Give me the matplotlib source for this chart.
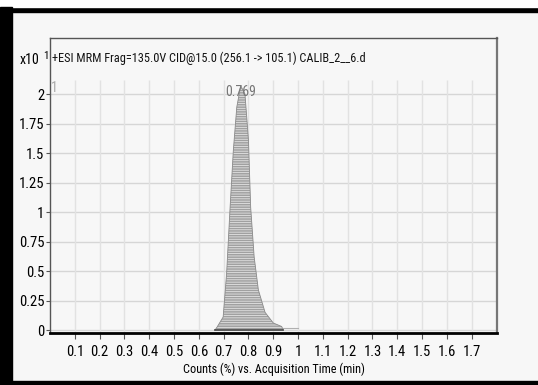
import matplotlib
matplotlib.use("Agg")
import matplotlib.pyplot as plt
from matplotlib import font_manager
from matplotlib.font_manager import FontProperties
from matplotlib.patches import Rectangle

# pick a narrow font if one is installed
narrow_path = None
prefs = ['LiberationSansNarrow-Regular', 'RobotoCondensed-Regular', 'DejaVuSansCondensed.ttf',
         'Roboto_Condensed', 'OpenSans_Condensed', 'OpenSansCondensed']
cands = [f for f in font_manager.fontManager.ttflist
         if ('condensed' in str(f.stretch).lower() or 'narrow' in f.fname.lower() or 'condensed' in f.fname.lower())
         and 'bold' not in f.fname.lower() and 'oblique' not in f.fname.lower() and 'italic' not in f.fname.lower()
         and f.weight in (400, 'normal', 'regular')]
for p in prefs:
    for f in cands:
        if p.lower() in f.fname.lower():
            narrow_path = f.fname
            break
    if narrow_path:
        break
if narrow_path is None and cands:
    narrow_path = cands[0].fname

plt.rcParams['font.family'] = ['Liberation Sans', 'DejaVu Sans']
plt.rcParams['hatch.linewidth'] = 0.6

def fp(size):
    if narrow_path:
        return FontProperties(fname=narrow_path, size=size)
    return FontProperties(family=['Liberation Sans', 'DejaVu Sans'], size=size * 0.85)

# data
time_min = [0.665, 0.672, 0.698, 0.712, 0.726, 0.739, 0.753, 0.769, 0.786, 0.800,
            0.809, 0.823, 0.840, 0.867, 0.900, 0.934, 0.940]
counts = [0.0, 0.02, 0.11, 0.48, 1.04, 1.52, 1.89, 2.07, 2.0, 1.61,
          1.04, 0.62, 0.34, 0.15, 0.06, 0.03, 0.0]
tail_time = [0.94, 1.0]
tail_counts = [0.02, 0.02]
apex_time = 0.769
apex_label = "0.769"
x_ticks = [0.1, 0.2, 0.3, 0.4, 0.5, 0.6, 0.7, 0.8, 0.9, 1.0, 1.1, 1.2, 1.3, 1.4, 1.5, 1.6, 1.7]
x_labels = ["0.1", "0.2", "0.3", "0.4", "0.5", "0.6", "0.7", "0.8", "0.9", "1",
            "1.1", "1.2", "1.3", "1.4", "1.5", "1.6", "1.7"]
y_ticks = [0, 0.25, 0.5, 0.75, 1, 1.25, 1.5, 1.75, 2]
y_labels = ["0", "0.25", "0.5", "0.75", "1", "1.25", "1.5", "1.75", "2"]
title = "+ESI MRM Frag=135.0V CID@15.0 (256.1 -> 105.1) CALIB_2__6.d"
xlabel = "Counts (%) vs. Acquisition Time (min)"

W, H = 538, 385
fig = plt.figure(figsize=(W / 100, H / 100), dpi=100)
fig.patch.set_facecolor('#f7f7f7')
# outer frame
fig.add_artist(Rectangle((0, 1 - 12 / H), 1, 5 / H, transform=fig.transFigure, color='black', zorder=0))
fig.add_artist(Rectangle((0, 1 - 7 / H), 1, 7 / H, transform=fig.transFigure, color='white', zorder=0))
fig.add_artist(Rectangle((0, 0), 12 / W, 1 - 7 / H, transform=fig.transFigure, color='black', zorder=0))
fig.add_artist(Rectangle((0, 0), 1, 4 / H, transform=fig.transFigure, color='black', zorder=0))

ax = fig.add_axes([50 / W, 1 - 333 / H, 447 / W, 295 / H])
ax.set_facecolor('#f7f7f7')
ax.set_xlim(0, 1.802)
ax.set_ylim(-0.025, 2.475)

# grid
for yv in y_ticks:
    ax.axhline(yv, color='#d6d6d6', lw=1.0, zorder=1)
ax.vlines(x_ticks, -0.025, 2.12, color='#e2e2e2', lw=1.0, zorder=1)

ax.fill_between(time_min, counts, 0, facecolor='#a0a0a0', edgecolor='#e4e4e4',
                hatch='-------', lw=0, zorder=2)
ax.plot(time_min, counts, color='#8a8a8a', lw=0.6, zorder=3)
ax.plot([time_min[0], time_min[-1]], [0.0, 0.0], color='#444444', lw=1.2, zorder=3)
ax.plot(tail_time, tail_counts, color='#b0b0b0', lw=0.8, zorder=2)
ax.text(apex_time, 2.02, apex_label, ha='center', va='center', fontproperties=fp(10), color='#777777', zorder=4)
ax.text(0.018, 2.05, "1", ha='center', va='center', fontproperties=fp(10), color='#aaaaaa', zorder=4)

ax.set_xticks(x_ticks)
ax.set_xticklabels(x_labels, fontproperties=fp(10.5))
ax.set_yticks(y_ticks)
ax.set_yticklabels(y_labels, fontproperties=fp(10.5))
ax.tick_params(axis='x', length=4, width=0.8, color='#555555', pad=5)
ax.tick_params(axis='y', length=3, width=0.8, color='#555555', pad=1)
ax.set_xlabel(xlabel, fontproperties=fp(8.8), labelpad=2)

ax.text(0.004, 0.932, title, transform=ax.transAxes, ha='left', va='center', fontproperties=fp(8.8), color='#111111')
fig.text(20 / W, 1 - 60 / H, "x10", ha='left', va='center', fontproperties=fp(10))
fig.text(43 / W, 1 - 56 / H, "1", ha='left', va='center', fontproperties=fp(8))

for s in ['left', 'top']:
    ax.spines[s].set_color('#555555')
    ax.spines[s].set_linewidth(1.0)
ax.spines['right'].set_color('#777777')
ax.spines['right'].set_linewidth(1.6)
ax.spines['bottom'].set_color('black')
ax.spines['bottom'].set_linewidth(2.0)

fig.savefig('out.png', dpi=100, facecolor=fig.get_facecolor())
